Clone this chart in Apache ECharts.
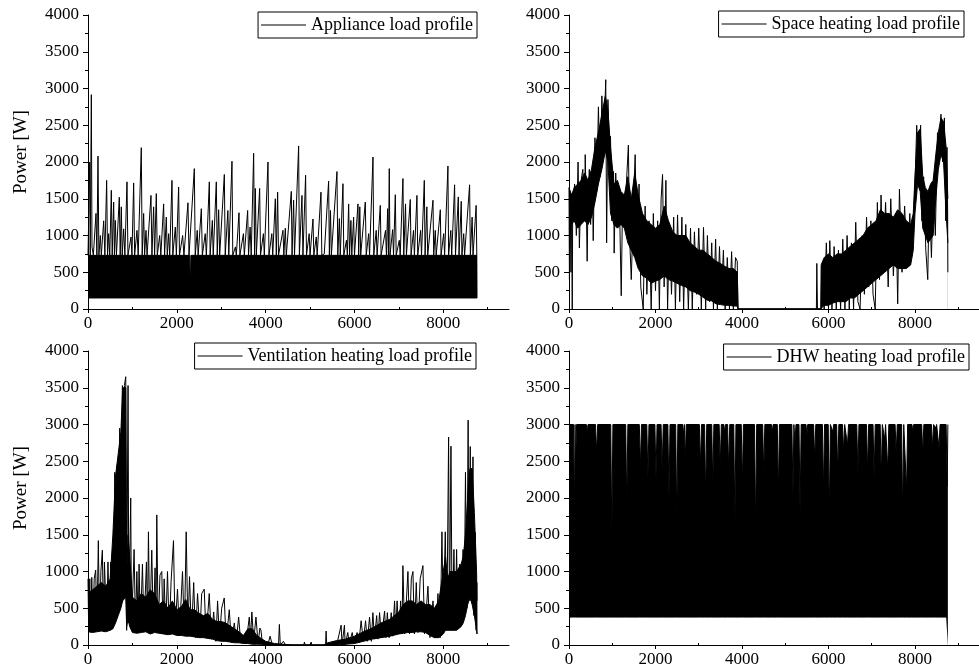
<!DOCTYPE html>
<html>
<head>
<meta charset="utf-8">
<script src="https://cdn.jsdelivr.net/npm/echarts@6/dist/echarts.min.js"></script>
<style>html,body{margin:0;padding:0;background:#fff}#c{width:979px;height:672px}</style>
</head>
<body>
<div id="c"></div>
<script>
// ---------- DATA (hour of year, power in W) ----------
const xTickLabels = [0, 2000, 4000, 6000, 8000];
const xMinorTicks = [1000, 3000, 5000, 7000, 9000];
const panelNames = ['Appliance load profile', 'Space heating load profile', 'Ventilation heating load profile', 'DHW heating load profile'];
const yAxisTitle = 'Power [W]';

// Appliance: dense base band [hour, low, high] and peaks [hour, W]
const applianceBand = [[0,150,730],[2290,150,730],[2304,150,270],[2318,150,730],[8760,150,730]];
const appliancePeaks = [[0,730],[20,1360],[38,2000],[50,730],[75,2916],[90,845],[120,730],[180,1300],[200,730],[225,2080],[245,730],[278,1000],[300,730],[353,1200],[380,730],[420,1750],[440,730],[465,1025],[490,730],[525,1615],[545,730],[578,1455],[595,730],[615,1205],[640,730],[705,1520],[725,730],[750,1390],[770,730],[803,1090],[830,730],[878,1730],[900,730],[968,980],[990,730],[1028,1715],[1050,730],[1103,1070],[1130,730],[1200,2195],[1220,730],[1253,1300],[1275,730],[1306,1070],[1330,730],[1418,1545],[1440,730],[1478,1390],[1500,730],[1538,1570],[1560,730],[1614,1000],[1640,730],[1703,1430],[1725,730],[1763,1250],[1785,730],[1816,1025],[1840,730],[1891,1750],[1910,730],[1966,1115],[1990,730],[2041,1660],[2060,730],[2131,1000],[2160,730],[2251,1445],[2275,730],[2394,1910],[2415,730],[2460,1070],[2480,730],[2552,1365],[2575,730],[2640,1025],[2665,730],[2732,1730],[2750,730],[2800,1205],[2820,730],[2889,1730],[2910,730],[2942,1350],[2965,730],[3070,1830],[3090,730],[3150,1340],[3170,730],[3242,2010],[3260,730],[3320,845],[3340,730],[3400,1310],[3420,730],[3500,1025],[3520,730],[3595,1340],[3615,730],[3650,1115],[3675,730],[3730,2120],[3750,730],[3768,1640],[3790,730],[3865,1640],[3885,730],[3950,1025],[3970,730],[4053,2000],[4075,730],[4140,1025],[4160,730],[4218,1500],[4240,730],[4270,1590],[4290,730],[4390,1070],[4410,730],[4443,1100],[4465,730],[4578,1600],[4595,730],[4630,1480],[4650,730],[4743,2218],[4760,730],[4818,1545],[4840,730],[4900,1820],[4920,730],[4980,1025],[5000,730],[5066,1225],[5085,730],[5140,980],[5160,730],[5246,1590],[5265,730],[5320,750],[5340,730],[5418,1740],[5435,730],[5460,1340],[5480,730],[5606,1870],[5625,730],[5660,1230],[5680,730],[5741,1705],[5760,730],[5820,935],[5840,730],[5869,1430],[5890,730],[5920,1205],[5940,730],[5981,1250],[6000,730],[6079,1430],[6095,730],[6120,1390],[6140,730],[6244,1455],[6265,730],[6320,1025],[6340,730],[6417,2068],[6435,730],[6490,1070],[6510,730],[6582,1410],[6600,730],[6700,1070],[6720,730],[6747,1365],[6765,730],[6784,1910],[6800,730],[6860,1080],[6880,730],[6920,1555],[6940,730],[7010,935],[7030,730],[7092,1775],[7110,730],[7150,1430],[7170,730],[7257,1490],[7275,730],[7330,1070],[7350,730],[7407,1545],[7425,730],[7490,1070],[7510,730],[7573,1750],[7590,730],[7630,1390],[7650,730],[7768,1480],[7785,730],[7820,1070],[7840,730],[7933,1350],[7950,730],[8010,1025],[8030,730],[8105,1945],[8120,730],[8170,1070],[8190,730],[8255,1690],[8275,730],[8338,1525],[8355,730],[8405,1465],[8420,730],[8460,1025],[8480,730],[8593,1690],[8610,730],[8650,1250],[8670,730],[8740,1410],[8755,730],[8760,150]];

// Space heating: core band [hour, low, high] and excursions [hour, W]
const spaceBand = [[0,1100,1650],[60,1150,1550],[120,1200,1650],[200,1100,1700],[280,1150,1750],[360,1200,1850],[440,1150,1750],[520,1250,1900],[600,1450,2200],[680,1700,2400],[760,1900,2650],[840,2150,2900],[900,2000,2700],[960,1300,2200],[1040,1150,1700],[1120,1100,1750],[1200,1150,1600],[1280,1100,1550],[1360,900,1800],[1440,800,1500],[1520,700,1850],[1600,550,1550],[1700,450,1300],[1800,420,1200],[1900,350,1150],[2000,380,1100],[2100,400,1150],[2200,450,1400],[2300,400,1200],[2400,380,1050],[2500,350,1000],[2600,320,1000],[2700,300,1000],[2800,250,900],[2900,230,850],[3000,200,800],[3100,160,800],[3200,120,750],[3300,110,700],[3400,70,650],[3500,60,620],[3600,50,580],[3700,50,550],[3800,40,550],[3890,40,500],[3910,0,0],[5820,0,0],[5830,0,600],[5900,50,700],[6000,50,750],[6100,80,700],[6200,100,750],[6300,100,750],[6400,100,800],[6500,150,850],[6600,150,900],[6700,200,950],[6800,250,1000],[6900,300,1100],[7000,350,1150],[7100,400,1200],[7200,450,1350],[7300,500,1300],[7400,550,1300],[7500,600,1250],[7600,550,1350],[7700,550,1300],[7800,550,1200],[7900,600,1150],[7960,800,1300],[8000,1300,1800],[8060,1700,2400],[8120,1600,2450],[8180,1100,1800],[8240,1000,1650],[8300,900,1600],[8360,950,1700],[8420,1000,1750],[8480,1500,2100],[8540,1900,2400],[8600,2100,2600],[8660,2000,2550],[8720,1300,2200],[8760,900,1500]];
const spacePeaks = [[0,1650],[10,400],[25,1600],[45,500],[60,1500],[75,0],[85,1300],[130,1700],[170,1000],[210,2000],[240,830],[280,1750],[320,1900],[360,1200],[375,2100],[400,1400],[420,650],[440,1500],[470,1900],[500,1150],[540,1700],[560,930],[600,2330],[640,1600],[680,2750],[720,1800],[760,2900],[800,2200],[850,3120],[870,900],[900,2850],[930,2300],[960,2350],[990,1200],[1030,1870],[1044,760],[1080,1850],[1120,1300],[1160,1650],[1208,180],[1240,1550],[1300,1400],[1373,2230],[1400,1000],[1440,400],[1500,1600],[1530,2100],[1570,800],[1620,1700],[1660,300],[1716,0],[1760,1400],[1800,200],[1850,1200],[1900,0],[1950,1300],[2000,250],[2050,1200],[2090,0],[2130,1500],[2163,1830],[2200,300],[2240,1750],[2280,0],[2320,1100],[2370,200],[2420,1250],[2460,0],[2510,1280],[2560,100],[2610,1250],[2650,0],[2700,1150],[2760,0],[2810,1100],[2850,0],[2900,1050],[2950,200],[3000,1100],[3060,0],[3110,1110],[3160,0],[3200,1000],[3250,100],[3300,900],[3340,0],[3390,950],[3430,0],[3480,850],[3520,100],[3570,800],[3610,0],[3660,700],[3710,0],[3760,780],[3800,0],[3850,700],[3890,650],[3905,0],[5720,0],[5730,620],[5745,0],[5840,0],[5870,650],[5900,0],[5950,900],[6000,0],[6030,930],[6080,0],[6130,850],[6180,0],[6230,800],[6280,0],[6330,950],[6380,0],[6430,1000],[6480,0],[6530,900],[6580,0],[6630,1180],[6680,100],[6730,0],[6780,1000],[6830,200],[6880,1250],[6930,300],[6980,1200],[7030,200],[7080,0],[7130,1450],[7180,400],[7215,1550],[7260,500],[7320,1450],[7380,300],[7440,1500],[7500,450],[7560,1300],[7600,70],[7640,1630],[7700,500],[7760,1400],[7820,600],[7880,1300],[7920,700],[7960,1150],[8000,1700],[8040,2500],[8080,1700],[8130,2500],[8160,1200],[8200,1800],[8250,800],[8295,400],[8330,1600],[8380,700],[8430,1800],[8470,1000],[8520,2400],[8560,2000],[8600,2650],[8640,2000],[8680,2600],[8710,1200],[8740,2200],[8755,1300],[8760,500]];

// Ventilation heating: core band [hour, low, high] and excursions [hour, W]
const ventBand = [[0,180,700],[100,170,750],[200,180,800],[300,190,850],[400,180,800],[500,200,900],[560,220,1500],[620,300,2300],[680,400,2600],[740,500,2900],[780,600,3500],[850,650,3500],[870,250,900],[900,350,1500],[940,250,1200],[1000,170,650],[1100,160,600],[1200,170,700],[1300,180,650],[1400,150,750],[1500,170,700],[1600,160,550],[1700,150,600],[1800,140,500],[1900,150,600],[2000,130,480],[2100,130,520],[2200,120,620],[2300,120,480],[2400,110,480],[2500,100,430],[2600,100,400],[2700,90,430],[2800,80,350],[2900,60,320],[3000,50,320],[3100,50,300],[3200,40,260],[3300,30,220],[3400,30,180],[3500,20,130],[3600,20,220],[3700,10,220],[3800,10,130],[3900,10,90],[4000,0,50],[4200,0,20],[4400,0,10],[4600,0,0],[5300,0,0],[5400,0,30],[5600,0,60],[5800,10,80],[6000,20,120],[6200,50,180],[6400,80,230],[6600,100,300],[6800,120,350],[7000,150,450],[7100,160,550],[7200,170,600],[7300,170,600],[7400,180,550],[7500,180,600],[7600,170,550],[7700,130,550],[7800,100,500],[7900,100,600],[8000,150,1000],[8050,200,1200],[8100,200,900],[8150,200,1000],[8200,200,1000],[8300,200,1000],[8400,250,1100],[8450,300,1200],[8500,400,1500],[8550,550,2000],[8600,650,2400],[8650,550,2400],[8700,400,1800],[8750,200,1000],[8760,150,600]];
const ventPeaks = [[0,900],[15,200],[40,900],[60,200],[85,920],[110,200],[140,900],[173,1020],[200,250],[233,1420],[260,200],[290,1000],[323,1290],[350,250],[370,1130],[398,1130],[420,250],[450,1130],[480,300],[511,1130],[540,300],[560,1000],[590,400],[602,2350],[630,600],[660,2450],[690,700],[714,2950],[740,800],[775,3530],[800,700],[820,3530],[850,3650],[870,200],[902,3530],[920,300],[962,2000],[980,200],[1038,1300],[1070,200],[1100,1000],[1130,250],[1150,1100],[1180,200],[1226,1100],[1260,200],[1316,1130],[1340,300],[1361,1540],[1390,200],[1436,1290],[1470,250],[1510,1050],[1530,200],[1549,1770],[1580,200],[1620,950],[1662,1000],[1690,150],[1715,900],[1750,200],[1790,1000],[1830,150],[1870,850],[1925,1420],[1960,200],[2015,760],[2060,150],[2128,1000],[2170,150],[2211,1540],[2250,200],[2286,930],[2330,150],[2380,850],[2420,100],[2467,700],[2520,150],[2560,700],[2617,760],[2660,100],[2730,700],[2780,80],[2830,450],[2880,50],[2918,600],[2960,80],[3010,500],[3068,640],[3110,50],[3181,480],[3230,30],[3294,300],[3340,50],[3392,380],[3440,30],[3500,100],[3560,20],[3632,380],[3660,100],[3690,450],[3730,50],[3782,380],[3830,20],[3870,230],[3895,200],[3930,0],[4050,0],[4100,120],[4150,0],[4290,0],[4309,280],[4330,0],[4400,50],[4422,70],[4450,0],[4860,0],[4873,40],[4890,0],[5010,0],[5023,40],[5040,0],[5350,0],[5362,190],[5375,0],[5550,20],[5600,0],[5700,270],[5720,0],[5775,270],[5790,0],[5850,170],[5880,20],[5950,170],[5990,20],[6060,170],[6100,30],[6150,330],[6200,50],[6250,330],[6290,50],[6340,380],[6380,50],[6415,440],[6450,80],[6500,400],[6530,80],[6565,440],[6610,100],[6678,460],[6710,100],[6740,440],[6780,100],[6828,440],[6860,120],[6903,600],[6930,150],[6960,600],[7000,150],[7040,600],[7070,150],[7091,1080],[7130,150],[7204,1000],[7240,150],[7280,900],[7317,1000],[7350,150],[7392,850],[7430,170],[7480,900],[7542,1080],[7580,150],[7655,800],[7700,100],[7768,600],[7830,100],[7880,700],[7930,100],[7970,1540],[8000,300],[8045,1540],[8080,200],[8120,2830],[8140,300],[8173,2705],[8200,200],[8240,1300],[8270,250],[8300,1300],[8330,300],[8369,1100],[8400,300],[8445,1300],[8470,400],[8500,2350],[8530,500],[8560,3060],[8580,600],[8608,2700],[8630,600],[8669,2560],[8690,400],[8721,1530],[8740,200],[8755,850],[8760,150]];

// DHW: constant floor and top edge with short dips [hour, W]
const dhwLow = 380;
const dhwTop = [[0,3000],[103,3000],[128,1840],[140,3000],[150,2410],[175,3000],[400,3000],[420,2900],[440,3000],[613,3000],[638,2620],[663,3000],[965,3000],[990,1480],[1015,3000],[1311,3000],[1336,1895],[1361,3000],[1626,3000],[1651,2420],[1676,3000],[1799,3000],[1824,2260],[1849,3000],[1986,3000],[2011,2260],[2036,3000],[2129,3000],[2154,2355],[2179,3000],[2286,3000],[2311,2000],[2336,3000],[2467,3000],[2492,1690],[2517,3000],[2632,3000],[2657,2840],[2672,3000],[2687,2475],[2712,3000],[3014,3000],[3039,2430],[3064,3000],[3135,3000],[3160,2000],[3185,3000],[3300,3000],[3325,2160],[3350,3000],[3472,3000],[3497,2420],[3522,3000],[3580,3000],[3600,2900],[3620,3000],[3667,3000],[3692,2385],[3717,3000],[3810,3000],[3835,1660],[3860,3000],[3983,3000],[4008,2180],[4033,3000],[4290,3000],[4315,1590],[4340,3000],[4478,3000],[4503,2320],[4528,3000],[4680,3000],[4700,2900],[4720,3000],[4816,3000],[4841,2060],[4866,3000],[5153,3000],[5178,2045],[5200,3000],[5223,2750],[5248,3000],[5318,3000],[5343,1795],[5368,3000],[5480,3000],[5500,2850],[5520,3000],[5656,3000],[5681,2520],[5706,3000],[5859,3000],[5884,2100],[5909,3000],[5994,3000],[6019,1750],[6044,3000],[6080,3000],[6100,2900],[6120,3000],[6189,3000],[6214,2320],[6239,3000],[6324,3000],[6349,2625],[6374,3000],[6414,3000],[6439,2720],[6464,3000],[6654,3000],[6679,2340],[6704,3000],[6879,3000],[6904,2360],[6929,3000],[7030,3000],[7055,2260],[7080,3000],[7195,3000],[7220,2260],[7245,3000],[7280,3000],[7300,2800],[7320,3000],[7345,3000],[7370,2370],[7395,3000],[7540,3000],[7565,2600],[7590,3000],[7690,3000],[7715,1750],[7740,3000],[7780,3000],[7805,2100],[7830,3000],[7930,3000],[7950,2900],[7970,3000],[8155,3000],[8180,2590],[8205,3000],[8380,3000],[8405,2680],[8430,3000],[8460,3000],[8480,2950],[8500,3000],[8530,3000],[8555,2680],[8580,3000],[8720,3000],[8745,2160],[8760,3000]];

// ---------- CHART ----------
const FONT = 'Liberation Serif';
const grids = [
  {left: 88, top: 15, width: 421, height: 294},
  {left: 569, top: 15, width: 422, height: 294},
  {left: 88, top: 351, width: 421, height: 294},
  {left: 569, top: 351, width: 422, height: 294}
];
const legendPos = [
  {right: 502, top: 12},
  {right: 15, top: 11},
  {right: 503, top: 343},
  {right: 10, top: 344}
];
const black = '#000';
const plain = v => String(v);
const xAxes = [], yAxes = [], legends = [], series = [];
grids.forEach((g, i) => {
  xAxes.push({
    type: 'value', gridIndex: i, min: 0, max: 9480,
    axisLine: {show: true, onZero: false, lineStyle: {color: black, width: 1}},
    axisTick: {show: true, customValues: xTickLabels, length: 4, lineStyle: {color: black}},
    axisLabel: {show: true, customValues: xTickLabels, formatter: plain, color: black, fontFamily: FONT, fontSize: 17, margin: 6},
    splitLine: {show: false}, z: 10
  });
  xAxes.push({
    type: 'value', gridIndex: i, min: 0, max: 9480,
    axisLine: {show: false},
    axisTick: {show: true, customValues: xMinorTicks, length: 2, lineStyle: {color: black}},
    axisLabel: {show: false},
    splitLine: {show: false}, z: 10
  });
  yAxes.push({
    type: 'value', gridIndex: i, min: 0, max: 4000, interval: 500,
    axisLine: {show: true, onZero: false, lineStyle: {color: black, width: 1}},
    axisTick: {show: true, length: 5, lineStyle: {color: black}},
    minorTick: {show: true, splitNumber: 2, length: 3, lineStyle: {color: black}},
    axisLabel: {color: black, formatter: plain, fontFamily: FONT, fontSize: 17, margin: 9},
    splitLine: {show: false}, minorSplitLine: {show: false}, z: 10
  });
  legends.push(Object.assign({
    data: [panelNames[i]], selectedMode: false,
    icon: 'rect', itemWidth: 45, itemHeight: 1,
    borderColor: black, borderWidth: 1, borderRadius: 0,
    padding: [4, 4, 4, 3], backgroundColor: '#fff',
    textStyle: {color: black, fontFamily: FONT, fontSize: 18}
  }, legendPos[i]));
});

function addBand(i, band) {
  series.push({
    type: 'line', name: panelNames[i], xAxisIndex: 2 * i, yAxisIndex: i,
    data: band.map(d => [d[0], d[2]]), symbol: 'none', showSymbol: false,
    color: black, lineStyle: {color: black, width: 1},
    areaStyle: {color: black, opacity: 1}, z: 2, silent: true
  });
  series.push({
    type: 'line', name: panelNames[i] + ' floor', xAxisIndex: 2 * i, yAxisIndex: i,
    data: band.map(d => [d[0], d[1]]), symbol: 'none', showSymbol: false,
    color: black, lineStyle: {color: black, width: 1},
    areaStyle: {color: '#fff', opacity: 1}, z: 3, silent: true
  });
}
function addPeaks(i, pts) {
  series.push({
    type: 'line', name: panelNames[i] + ' peaks', xAxisIndex: 2 * i, yAxisIndex: i,
    data: pts, symbol: 'none', showSymbol: false,
    color: black, lineStyle: {color: black, width: 1}, z: 4, silent: true
  });
}
addBand(0, applianceBand); addPeaks(0, appliancePeaks);
addBand(1, spaceBand); addPeaks(1, spacePeaks);
addBand(2, ventBand); addPeaks(2, ventPeaks);
addBand(3, dhwTop.map(d => [d[0], dhwLow, d[1]]));

const chart = echarts.init(document.getElementById('c'), null, {renderer: 'canvas'});
chart.setOption({
  animation: false,
  backgroundColor: '#fff',
  grid: grids,
  xAxis: xAxes,
  yAxis: yAxes,
  legend: legends,
  graphic: [
    {type: 'text', x: 21, y: 152, rotation: Math.PI / 2, style: {text: yAxisTitle, fill: black, font: '19px "Liberation Serif"', align: 'center', verticalAlign: 'middle'}},
    {type: 'text', x: 21, y: 488, rotation: Math.PI / 2, style: {text: yAxisTitle, fill: black, font: '19px "Liberation Serif"', align: 'center', verticalAlign: 'middle'}}
  ],
  series: series
});
</script>
</body>
</html>
